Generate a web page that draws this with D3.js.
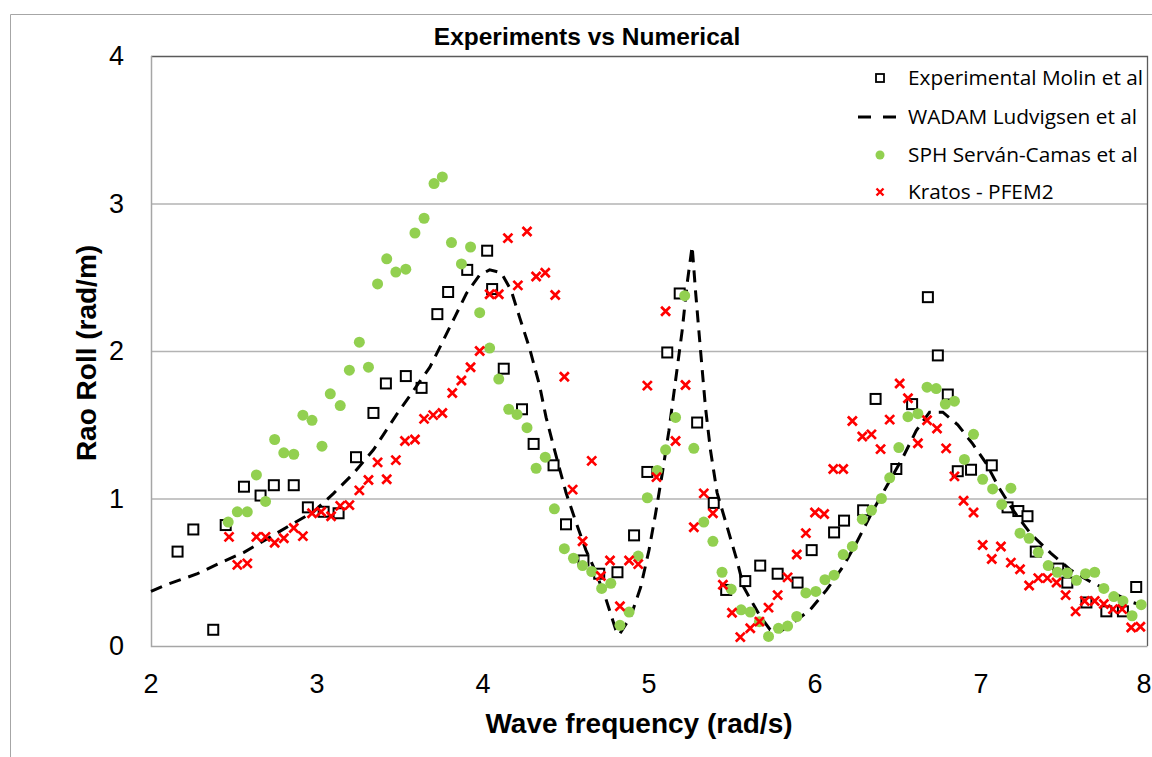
<!DOCTYPE html>
<html>
<head>
<meta charset="utf-8">
<script src="https://cdn.jsdelivr.net/npm/d3@7"></script>
<style>
  body { margin: 0; background: #fff; }
  svg { display: block; }
</style>
</head>
<body>
<svg id="chart" width="1152" height="757"></svg>
<script>
// values
var xTicks = [2, 3, 4, 5, 6, 7, 8]
var yTicks = [0, 1, 2, 3, 4]

var experimental = [[2.16,0.64],[2.255,0.79],[2.375,0.11],[2.45,0.82],[2.56,1.08],[2.66,1.02],[2.74,1.09],[2.86,1.09],
  [2.945,0.94],[3.04,0.91],[3.13,0.90],[3.235,1.28],[3.34,1.58],[3.415,1.78],[3.535,1.83],[3.63,1.75],[3.725,2.25],
  [3.79,2.40],[3.905,2.55],[4.025,2.68],[4.055,2.42],[4.125,1.88],[4.235,1.605],[4.305,1.37],[4.425,1.225],[4.50,0.825],
  [4.605,0.58],[4.70,0.49],[4.81,0.50],[4.91,0.75],[4.99,1.18],[5.11,1.99],[5.185,2.39],[5.29,1.515],[5.39,0.97],
  [5.465,0.38],[5.58,0.44],[5.67,0.545],[5.775,0.49],[5.895,0.43],[5.98,0.65],[6.115,0.77],[6.175,0.85],[6.29,0.92],
  [6.365,1.675],[6.49,1.20],[6.585,1.64],[6.68,2.365],[6.74,1.97],[6.80,1.705],[6.86,1.185],[6.94,1.195],[7.065,1.225],
  [7.16,0.94],[7.225,0.915],[7.28,0.88],[7.33,0.64],[7.465,0.525],[7.52,0.43],[7.635,0.295],[7.755,0.235],[7.855,0.235],
  [7.935,0.40]]

var wadam = [[2.0,0.37],[2.08,0.41],[2.28,0.49],[2.42,0.565],[2.56,0.635],[2.72,0.74],[2.84,0.82],[2.98,0.91],[3.1,1.035],
  [3.22,1.17],[3.34,1.33],[3.48,1.57],[3.68,1.89],[3.76,2.07],[3.83,2.23],[3.9,2.39],[3.98,2.515],[4.04,2.55],[4.11,2.53],
  [4.17,2.41],[4.22,2.23],[4.28,2.02],[4.34,1.77],[4.38,1.55],[4.44,1.29],[4.5,1.04],[4.56,0.84],[4.62,0.65],[4.68,0.5],
  [4.74,0.32],[4.8,0.11],[4.82,0.075],[4.89,0.2],[4.95,0.4],[5.0,0.65],[5.04,0.9],[5.08,1.17],[5.12,1.46],[5.16,1.8],
  [5.2,2.14],[5.23,2.46],[5.26,2.71],[5.28,2.41],[5.31,2.01],[5.34,1.62],[5.37,1.33],[5.41,1.04],[5.47,0.81],[5.53,0.58],
  [5.57,0.40],[5.63,0.28],[5.67,0.2],[5.73,0.11],[5.79,0.097],[5.89,0.176],[5.97,0.245],[6.07,0.38],[6.17,0.54],[6.25,0.7],
  [6.35,0.92],[6.43,1.08],[6.53,1.28],[6.61,1.46],[6.69,1.585],[6.77,1.585],[6.86,1.5],[6.95,1.37],[7.03,1.24],[7.11,1.07],
  [7.2,0.91],[7.3,0.76],[7.42,0.63],[7.54,0.515],[7.66,0.435],[7.78,0.37],[7.9,0.3],[8.0,0.265]]

var sph = [[2.465,0.84],[2.52,0.91],[2.58,0.91],[2.635,1.16],[2.69,0.98],[2.745,1.40],[2.80,1.31],[2.86,1.30],[2.915,1.565],
  [2.97,1.53],[3.03,1.355],[3.08,1.71],[3.14,1.63],[3.195,1.87],[3.255,2.06],[3.31,1.89],[3.365,2.455],[3.42,2.625],
  [3.475,2.535],[3.535,2.555],[3.59,2.80],[3.645,2.90],[3.705,3.135],[3.755,3.18],[3.81,2.735],[3.87,2.59],[3.925,2.705],
  [3.98,2.26],[4.04,2.02],[4.095,1.81],[4.155,1.605],[4.205,1.57],[4.265,1.48],[4.32,1.205],[4.375,1.28],[4.43,0.93],
  [4.49,0.66],[4.545,0.595],[4.60,0.545],[4.655,0.505],[4.715,0.39],[4.77,0.425],[4.825,0.14],[4.88,0.23],[4.935,0.61],
  [4.99,1.005],[5.05,1.19],[5.10,1.33],[5.16,1.55],[5.215,2.375],[5.27,1.34],[5.33,0.84],[5.385,0.71],[5.44,0.50],
  [5.495,0.385],[5.555,0.245],[5.61,0.23],[5.665,0.165],[5.72,0.065],[5.78,0.12],[5.835,0.135],[5.89,0.20],[5.945,0.36],
  [6.005,0.37],[6.06,0.45],[6.115,0.48],[6.17,0.62],[6.225,0.675],[6.285,0.86],[6.34,0.92],[6.40,1.00],[6.45,1.14],
  [6.505,1.345],[6.56,1.555],[6.62,1.575],[6.675,1.755],[6.73,1.745],[6.785,1.64],[6.84,1.66],[6.90,1.265],[6.955,1.435],
  [7.01,1.13],[7.07,1.065],[7.125,0.96],[7.18,1.07],[7.235,0.765],[7.29,0.73],[7.345,0.635],[7.405,0.545],[7.46,0.50],
  [7.52,0.495],[7.575,0.445],[7.63,0.49],[7.685,0.50],[7.74,0.39],[7.80,0.335],[7.855,0.305],[7.91,0.205],[7.965,0.28]]

var kratos = [[2.47,0.74],[2.52,0.55],[2.58,0.56],[2.635,0.74],[2.69,0.74],[2.745,0.70],[2.80,0.73],[2.86,0.80],[2.915,0.745],
  [2.97,0.90],[3.025,0.91],[3.085,0.88],[3.14,0.95],[3.195,0.955],[3.255,1.055],[3.31,1.125],[3.365,1.245],[3.42,1.13],
  [3.475,1.26],[3.53,1.39],[3.59,1.40],[3.645,1.54],[3.70,1.565],[3.755,1.58],[3.815,1.715],[3.87,1.80],[3.925,1.89],
  [3.98,2.00],[4.04,2.385],[4.095,2.385],[4.15,2.765],[4.21,2.445],[4.265,2.81],[4.32,2.505],[4.375,2.53],[4.435,2.38],
  [4.49,1.825],[4.54,1.06],[4.60,0.71],[4.655,1.255],[4.71,0.475],[4.765,0.58],[4.825,0.27],[4.88,0.58],[4.935,0.555],
  [4.99,1.765],[5.045,1.145],[5.10,2.27],[5.16,1.39],[5.22,1.77],[5.27,0.805],[5.33,1.035],[5.385,0.90],[5.445,0.415],
  [5.50,0.225],[5.55,0.06],[5.61,0.12],[5.665,0.165],[5.72,0.26],[5.775,0.345],[5.835,0.465],[5.89,0.62],[5.945,0.765],
  [6.0,0.905],[6.055,0.895],[6.11,1.20],[6.17,1.20],[6.225,1.525],[6.285,1.42],[6.34,1.435],[6.395,1.335],[6.45,1.535],
  [6.51,1.78],[6.56,1.68],[6.62,1.375],[6.675,1.53],[6.735,1.475],[6.79,1.34],[6.84,1.15],[6.895,0.985],[6.955,0.905],
  [7.01,0.685],[7.065,0.59],[7.12,0.675],[7.18,0.565],[7.235,0.52],[7.29,0.41],[7.345,0.46],[7.40,0.46],[7.455,0.43],
  [7.51,0.345],[7.57,0.235],[7.625,0.305],[7.685,0.305],[7.74,0.285],[7.795,0.25],[7.85,0.25],[7.905,0.125],[7.96,0.13]]

var legendLabels = ["Experimental Molin et al", "WADAM Ludvigsen et al", "SPH Serván-Camas et al", "Kratos - PFEM2"]

var narrow = "'Liberation Sans Narrow', 'Arial Narrow', sans-serif"
var regular = "'Open Sans', 'Liberation Sans', sans-serif"

const svg = d3.select("#chart")
const plotLeft = 151, plotRight = 1147, plotTop = 56, plotBottom = 646

const x = d3.scaleLinear().domain([2, 8]).range([plotLeft, plotRight])
const y = d3.scaleLinear().domain([0, 4]).range([plotBottom, plotTop])

// outer chart frame
svg.append("path")
    .attr("d", "M10.5,757 L10.5,14.5 L1152,14.5")
    .style("fill", "none")
    .style("stroke", "#a6a6a6")

// gridlines
svg.append("g")
    .selectAll("line")
    .data(yTicks.filter(d => d > 0 && d < 4))
    .join("line")
    .attr("x1", plotLeft).attr("x2", plotRight)
    .attr("y1", d => y(d) + 0.5).attr("y2", d => y(d) + 0.5)
    .style("stroke", "#b3b3b3")
    .style("stroke-width", 1.3)

// plot frame: top and right darker, axes lighter
svg.append("path")
    .attr("d", `M${plotLeft},${plotTop + 0.5} L${plotRight + 0.5},${plotTop + 0.5} L${plotRight + 0.5},${plotBottom}`)
    .style("fill", "none")
    .style("stroke", "#5a5a5a")
    .style("stroke-width", 1.3)
svg.append("path")
    .attr("d", `M${plotLeft + 0.5},${plotTop} L${plotLeft + 0.5},${plotBottom + 0.5} L${plotRight + 0.5},${plotBottom + 0.5}`)
    .style("fill", "none")
    .style("stroke", "#a6a6a6")
    .style("stroke-width", 1.5)

// tick labels (the last x label sits on the right edge, as in the reference)
svg.append("g")
    .selectAll("text")
    .data(xTicks)
    .join("text")
    .attr("x", d => Math.min(x(d), 1144))
    .attr("y", 693)
    .attr("text-anchor", "middle")
    .style("font-family", narrow)
    .style("font-size", "27px")
    .text(d => d)

svg.append("g")
    .selectAll("text")
    .data(yTicks)
    .join("text")
    .attr("x", 124)
    .attr("y", d => y(d) + 9)
    .attr("text-anchor", "end")
    .style("font-family", narrow)
    .style("font-size", "27px")
    .text(d => d)

// titles
svg.append("text")
    .attr("x", 587).attr("y", 45)
    .attr("text-anchor", "middle")
    .style("font-family", narrow)
    .style("font-weight", "bold")
    .style("font-size", "24.5px")
    .text("Experiments vs Numerical")

svg.append("text")
    .attr("x", 639).attr("y", 733)
    .attr("text-anchor", "middle")
    .style("font-family", narrow)
    .style("font-weight", "bold")
    .style("font-size", "28px")
    .text("Wave frequency (rad/s)")

svg.append("text")
    .attr("transform", "translate(96,353) rotate(-90)")
    .attr("text-anchor", "middle")
    .style("font-family", narrow)
    .style("font-weight", "bold")
    .style("font-size", "28px")
    .text("Rao Roll (rad/m)")

// series
const plot = svg.append("g")

plot.append("g")
    .selectAll("rect")
    .data(experimental)
    .join("rect")
    .attr("x", d => x(d[0]) - 5)
    .attr("y", d => y(d[1]) - 5)
    .attr("width", 10)
    .attr("height", 10)
    .style("fill", "#fff")
    .style("stroke", "#000")
    .style("stroke-width", 2)

plot.append("path")
    .datum(wadam)
    .attr("d", d3.line().x(d => x(d[0])).y(d => y(d[1])))
    .style("fill", "none")
    .style("stroke", "#000")
    .style("stroke-width", 3)
    .style("stroke-dasharray", "12,8")

plot.append("g")
    .selectAll("circle")
    .data(sph)
    .join("circle")
    .attr("cx", d => x(d[0]))
    .attr("cy", d => y(d[1]))
    .attr("r", 5.5)
    .style("fill", "#92d050")

const cross = "M-4.5,-4.5L4.5,4.5M-4.5,4.5L4.5,-4.5"
plot.append("g")
    .selectAll("path")
    .data(kratos)
    .join("path")
    .attr("transform", d => `translate(${x(d[0])},${y(d[1])})`)
    .attr("d", cross)
    .style("stroke", "#ff0000")
    .style("stroke-width", 2.7)

// legend
const rows = [78, 117, 155, 192]
const legend = svg.append("g")
legend.selectAll("text")
    .data(legendLabels)
    .join("text")
    .attr("x", 908)
    .attr("y", (d, i) => rows[i] + 7)
    .style("font-family", regular)
    .style("font-size", "20.8px")
    .text(d => d)

legend.append("rect")
    .attr("x", 876).attr("y", rows[0] - 4).attr("width", 8).attr("height", 8)
    .style("fill", "#fff").style("stroke", "#000").style("stroke-width", 1.8)
legend.append("line")
    .attr("x1", 858).attr("x2", 904).attr("y1", rows[1]).attr("y2", rows[1])
    .style("stroke", "#000").style("stroke-width", 3).style("stroke-dasharray", "13,12")
legend.append("circle")
    .attr("cx", 880).attr("cy", rows[2]).attr("r", 4.5)
    .style("fill", "#92d050")
legend.append("path")
    .attr("transform", `translate(880,${rows[3]})`)
    .attr("d", "M-3.5,-3.5L3.5,3.5M-3.5,3.5L3.5,-3.5")
    .style("stroke", "#ff0000").style("stroke-width", 2.4)
</script>
</body>
</html>
